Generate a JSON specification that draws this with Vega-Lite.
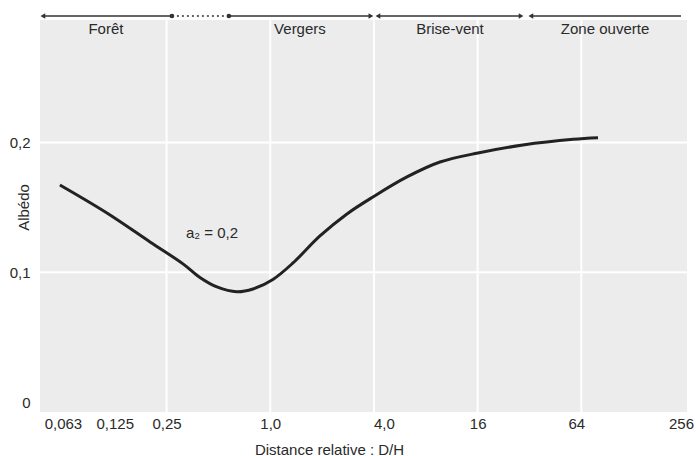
{
  "$schema": "https://vega.github.io/schema/vega-lite/v6.json",
  "width": 647,
  "height": 392,
  "autosize": {"type": "none"},
  "padding": {"left": 40, "top": 20, "right": 9, "bottom": 44},
  "background": "white",
  "config": {
    "view": {"fill": "#ececec", "stroke": null},
    "font": "Liberation Sans",
    "text": {"font": "Liberation Sans", "fontSize": 15, "color": "#2a2a2a"}
  },
  "datasets": {
    "curve": [
      {"d": 0.0600, "a": 0.1673},
      {"d": 0.1126, "a": 0.1457},
      {"d": 0.2003, "a": 0.1234},
      {"d": 0.3112, "a": 0.1065},
      {"d": 0.3905, "a": 0.0960},
      {"d": 0.490, "a": 0.0887},
      {"d": 0.640, "a": 0.0850},
      {"d": 0.793, "a": 0.0871},
      {"d": 1.036, "a": 0.0945},
      {"d": 1.355, "a": 0.1072},
      {"d": 1.943, "a": 0.1280},
      {"d": 2.788, "a": 0.1450},
      {"d": 3.948, "a": 0.1581},
      {"d": 6.22, "a": 0.1735},
      {"d": 9.67, "a": 0.1850},
      {"d": 16.08, "a": 0.1920},
      {"d": 29.3, "a": 0.1981},
      {"d": 57.3, "a": 0.2025},
      {"d": 80.0, "a": 0.2037}
    ],
    "vgrid": [{"d": 0.25}, {"d": 1}, {"d": 4}, {"d": 16}, {"d": 64}],
    "hgrid": [{"a": 0.1}, {"a": 0.2}],
    "solidSeg": [
      {"x1": 0.0478, "x2": 0.2684},
      {"x1": 0.575, "x2": 3.843},
      {"x1": 4.22, "x2": 28.6},
      {"x1": 32.6, "x2": 242.8}
    ],
    "dotSeg": [{"x1": 0.2684, "x2": 0.575}],
    "heads": [
      {"d": 0.0478, "dir": "left"},
      {"d": 3.843, "dir": "right"},
      {"d": 4.22, "dir": "left"},
      {"d": 28.6, "dir": "right"},
      {"d": 32.6, "dir": "left"}
    ],
    "dots": [{"d": 0.2684}, {"d": 0.575}],
    "zones": [
      {"d": 0.111, "label": "Forêt"},
      {"d": 1.487, "label": "Vergers"},
      {"d": 11.06, "label": "Brise-vent"},
      {"d": 87.9, "label": "Zone ouverte"}
    ],
    "annot": [{"d": 0.459, "a": 0.130, "label": "a₂ = 0,2"}]
  },
  "layer": [
    {
      "data": {"name": "vgrid"},
      "mark": {"type": "rule", "color": "white", "strokeWidth": 2},
      "encoding": {
        "x": {
          "field": "d",
          "type": "quantitative",
          "scale": {"type": "log", "base": 2, "domain": [0.046, 263], "nice": false},
          "axis": {
            "values": [0.0625, 0.125, 0.25, 1, 4, 16, 64, 256],
            "labelExpr": "datum.value == 0.0625 ? '0,063' : datum.value == 0.125 ? '0,125' : datum.value == 0.25 ? '0,25' : datum.value == 1 ? '1,0' : datum.value == 4 ? '4,0' : format(datum.value, 'd')",
            "labelOffset": {
              "condition": [
                {"test": "datum.value == 4", "value": 10},
                {"test": "datum.value == 64", "value": -5},
                {"test": "datum.value == 256", "value": -4}
              ],
              "value": 0
            },
            "domain": false,
            "ticks": false,
            "grid": false,
            "labelPadding": 4,
            "labelFontSize": 15,
            "labelColor": "#2a2a2a",
            "labelFont": "Liberation Sans",
            "labelFlush": false,
            "labelOverlap": false,
            "title": "Distance relative : D/H",
            "titleFont": "Liberation Sans",
            "titleFontWeight": "normal",
            "titleFontSize": 15,
            "titleColor": "#2a2a2a",
            "titleX": 289,
            "titleY": 37,
            "titleAlign": "center",
            "titleBaseline": "middle"
          }
        }
      }
    },
    {
      "data": {"name": "hgrid"},
      "mark": {"type": "rule", "color": "white", "strokeWidth": 2},
      "encoding": {
        "y": {
          "field": "a",
          "type": "quantitative",
          "scale": {"domain": [-0.0077, 0.2945], "nice": false, "zero": false},
          "axis": {
            "values": [0, 0.1, 0.2],
            "labelExpr": "datum.value == 0 ? '0' : replace(format(datum.value, '.1f'), '.', ',')",
            "domain": false,
            "ticks": false,
            "grid": false,
            "labelPadding": 10,
            "labelFontSize": 15,
            "labelColor": "#2a2a2a",
            "labelFont": "Liberation Sans",
            "title": "Albédo",
            "titleFont": "Liberation Sans",
            "titleFontWeight": "normal",
            "titleFontSize": 15,
            "titleColor": "#2a2a2a",
            "titleAngle": -90,
            "titleX": -17,
            "titleY": 187,
            "titleAlign": "center",
            "titleBaseline": "middle"
          }
        }
      }
    },
    {
      "data": {"name": "curve"},
      "mark": {"type": "line", "color": "#222222", "strokeWidth": 3, "interpolate": "catmull-rom"},
      "encoding": {
        "x": {"field": "d", "type": "quantitative"},
        "y": {"field": "a", "type": "quantitative"}
      }
    },
    {
      "data": {"name": "annot"},
      "mark": {"type": "text", "align": "center", "baseline": "middle"},
      "encoding": {
        "x": {"field": "d", "type": "quantitative"},
        "y": {"field": "a", "type": "quantitative"},
        "text": {"field": "label"}
      }
    },
    {
      "data": {"name": "solidSeg"},
      "mark": {"type": "rule", "color": "#333333", "strokeWidth": 1.5},
      "encoding": {
        "x": {"field": "x1", "type": "quantitative"},
        "x2": {"field": "x2"},
        "y": {"datum": 0.2976}
      }
    },
    {
      "data": {"name": "dotSeg"},
      "mark": {"type": "rule", "color": "#333333", "strokeWidth": 1.5, "strokeDash": [2, 3]},
      "encoding": {
        "x": {"field": "x1", "type": "quantitative"},
        "x2": {"field": "x2"},
        "y": {"datum": 0.2976}
      }
    },
    {
      "data": {"name": "heads"},
      "mark": {"type": "point", "filled": true, "color": "#333333", "size": 30, "opacity": 1},
      "encoding": {
        "x": {"field": "d", "type": "quantitative"},
        "y": {"datum": 0.2976},
        "shape": {
          "field": "dir",
          "type": "nominal",
          "scale": {"domain": ["left", "right"], "range": ["triangle-left", "triangle-right"]},
          "legend": null
        }
      }
    },
    {
      "data": {"name": "dots"},
      "mark": {"type": "point", "shape": "circle", "filled": true, "color": "#333333", "size": 22, "opacity": 1},
      "encoding": {
        "x": {"field": "d", "type": "quantitative"},
        "y": {"datum": 0.2976}
      }
    },
    {
      "data": {"name": "zones"},
      "mark": {"type": "text", "align": "center", "baseline": "middle"},
      "encoding": {
        "x": {"field": "d", "type": "quantitative"},
        "y": {"datum": 0.2876},
        "text": {"field": "label"}
      }
    }
  ]
}
